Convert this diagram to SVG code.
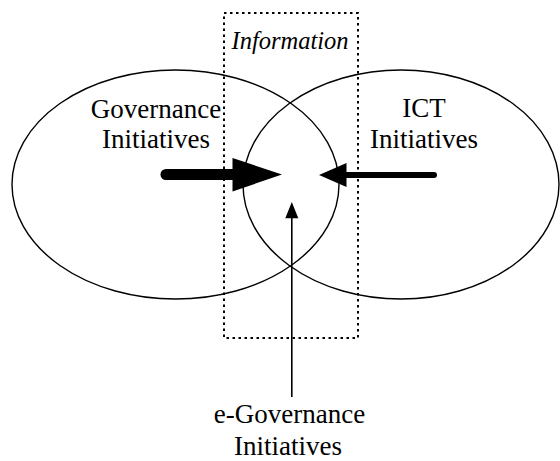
<svg xmlns="http://www.w3.org/2000/svg" width="560" height="461" viewBox="0 0 560 461">
<style>
.ell{fill:none;stroke:#000;stroke-width:1.4}
.lbl{font-family:'Liberation Serif','DejaVu Serif',serif;font-size:27px;fill:#000;text-anchor:middle}
.info{font-family:'Liberation Serif','DejaVu Serif',serif;font-size:24.5px;font-style:italic;fill:#000;text-anchor:middle}
.box{fill:none;stroke:#000;stroke-width:2;stroke-dasharray:2.5 3.5}
</style>
<rect width="560" height="461" fill="#fff"/>
<g id="information">
<rect class="box" x="224" y="13" width="134" height="325"/>
<text class="info" x="290" y="49">Information</text>
</g>
<g id="governance">
<ellipse class="ell" cx="175.5" cy="184.5" rx="163.5" ry="114.5"/>
<text class="lbl" x="156" y="118">Governance</text>
<text class="lbl" x="156" y="148">Initiatives</text>
</g>
<g id="ict">
<ellipse class="ell" cx="401" cy="184.5" rx="158" ry="114.5"/>
<text class="lbl" x="424" y="117">ICT</text>
<text class="lbl" x="424" y="148">Initiatives</text>
</g>
<g id="egovernance">
<text class="lbl" x="289.5" y="423">e-Governance</text>
<text class="lbl" x="288" y="455">Initiatives</text>
</g>
<g id="connectors">
<line x1="166" y1="174.5" x2="236" y2="174.5" stroke="#000" stroke-width="11" stroke-linecap="round"/>
<polygon points="232.5,158 282,174.5 232.5,191.5" fill="#000"/>
<line x1="434" y1="175" x2="344" y2="175" stroke="#000" stroke-width="6" stroke-linecap="round"/>
<polygon points="346.5,163 319,175 346.5,187" fill="#000"/>
<line x1="291.8" y1="397" x2="291.8" y2="215" stroke="#000" stroke-width="1.6"/>
<polygon points="291.8,202 285.3,218.3 298.3,218.3" fill="#000"/>
</g>
</svg>
